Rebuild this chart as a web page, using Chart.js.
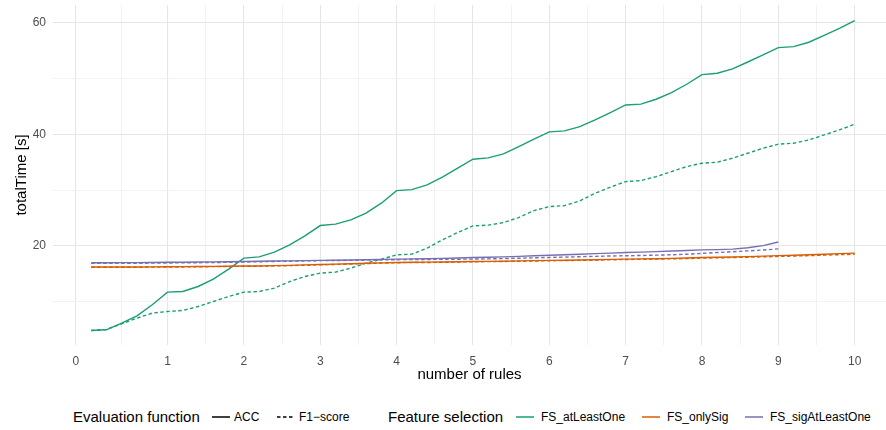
<!DOCTYPE html>
<html>
<head>
<meta charset="utf-8">
<script src="https://cdn.jsdelivr.net/npm/chart.js@4.4.0/dist/chart.umd.min.js"></script>
<style>
  body { margin: 0; background: #fff; font-family: "Liberation Sans", Arial, sans-serif; }
  #wrap { position: relative; width: 886px; height: 430px; overflow: hidden; }
  #myChart { position: absolute; left: 0; top: 0; }
  .lg { position: absolute; top: 407px; height: 20px; line-height: 20px; white-space: nowrap; color: #000; }
  .lg.title { font-size: 15px; }
  .lg.item { font-size: 12px; }
  .lg svg { position: absolute; top: 0; left: 0; }
</style>
</head>
<body>
<div id="wrap">
  <canvas id="myChart" width="886" height="395"></canvas>
  <div id="legend"></div>
</div>
<script>
// number of rules
const xValues = [0, 0.2, 0.4, 0.6, 0.8, 1, 1.2, 1.4, 1.6, 1.8, 2, 2.2, 2.4, 2.6, 2.8, 3, 3.2, 3.4, 3.6, 3.8,
  4, 4.2, 4.4, 4.6, 4.8, 5, 5.2, 5.4, 5.6, 5.8, 6, 6.2, 6.4, 6.6, 6.8, 7, 7.2, 7.4, 7.6, 7.8,
  8, 8.2, 8.4, 8.6, 8.8, 9, 9.2, 9.4, 9.6, 9.8, 10]

// totalTime [s]
const accAtLeastOne = [4.82, 4.95, 6.15, 7.46, 9.43, 11.7, 11.81, 12.71, 14.03, 15.82, 17.8, 18.03, 18.87, 20.18, 21.79,
  23.64, 23.89, 24.66, 25.86, 27.65, 29.91, 30.09, 30.93, 32.31, 33.92, 35.54, 35.77, 36.49, 37.8, 39.12,
  40.43, 40.61, 41.38, 42.58, 43.89, 45.27, 45.41, 46.29, 47.47, 48.98, 50.7, 50.95, 51.72, 52.97, 54.23,
  55.54, 55.72, 56.51, 57.76, 59.01, 60.38]
const f1AtLeastOne = [4.82, 5.03, 6.0, 7.04, 7.94, 8.23, 8.41, 9.12, 10.02, 10.91, 11.7, 11.81, 12.42, 13.6, 14.5,
  15.11, 15.29, 16.0, 16.9, 17.6, 18.39, 18.51, 19.59, 21.08, 22.38, 23.58, 23.71, 24.18, 25.07, 26.33,
  27.04, 27.22, 28.06, 29.44, 30.52, 31.52, 31.7, 32.42, 33.32, 34.21, 34.82, 35.0, 35.72, 36.61, 37.51,
  38.23, 38.41, 39.0, 39.89, 40.79, 41.81]
const accOnlySig = [16.2, 16.2, 16.2, 16.22, 16.23, 16.25, 16.27, 16.3, 16.32, 16.35, 16.38, 16.4, 16.45, 16.5, 16.58,
  16.65, 16.72, 16.8, 16.88, 16.95, 17.02, 17.05, 17.08, 17.1, 17.15, 17.2, 17.22, 17.25, 17.3, 17.35,
  17.4, 17.43, 17.47, 17.52, 17.57, 17.62, 17.66, 17.7, 17.76, 17.82, 17.9, 17.95, 18.0, 18.07, 18.15,
  18.25, 18.32, 18.4, 18.5, 18.6, 18.7]
const f1OnlySig = [16.15, 16.15, 16.15, 16.17, 16.18, 16.2, 16.22, 16.25, 16.27, 16.3, 16.33, 16.35, 16.4, 16.45, 16.52,
  16.6, 16.67, 16.75, 16.82, 16.9, 16.97, 17.0, 17.02, 17.05, 17.1, 17.15, 17.17, 17.2, 17.24, 17.28,
  17.33, 17.36, 17.4, 17.45, 17.5, 17.55, 17.58, 17.62, 17.67, 17.72, 17.8, 17.85, 17.9, 17.96, 18.03,
  18.1, 18.17, 18.25, 18.33, 18.42, 18.5]
const accSigAtLeastOne = [16.98, 16.98, 17.0, 17.0, 17.02, 17.05, 17.07, 17.1, 17.12, 17.15, 17.2, 17.23, 17.27, 17.3, 17.35,
  17.4, 17.43, 17.47, 17.52, 17.57, 17.62, 17.66, 17.7, 17.76, 17.83, 17.9, 17.96, 18.03, 18.12, 18.22,
  18.32, 18.4, 18.5, 18.6, 18.7, 18.8, 18.88, 18.97, 19.07, 19.17, 19.27, 19.32, 19.42, 19.65, 20.05, 20.7]
const f1SigAtLeastOne = [16.85, 16.85, 16.87, 16.88, 16.9, 16.93, 16.95, 16.98, 17.0, 17.05, 17.1, 17.15, 17.2, 17.25, 17.3,
  17.35, 17.37, 17.4, 17.43, 17.47, 17.52, 17.54, 17.56, 17.58, 17.6, 17.63, 17.67, 17.72, 17.78, 17.85,
  17.92, 17.98, 18.05, 18.12, 18.18, 18.22, 18.27, 18.33, 18.4, 18.5, 18.65, 18.8, 18.95, 19.1, 19.25, 19.45]

// axis ticks (the "0" break sits one step left of the first point)
const xMajorTicks = [-0.2, 1, 2, 3, 4, 5, 6, 7, 8, 9, 10]
const xMinorTicks = [0.4, 1.5, 2.5, 3.5, 4.5, 5.5, 6.5, 7.5, 8.5, 9.5]
const xTickLabels = ['0', '1', '2', '3', '4', '5', '6', '7', '8', '9', '10']
const yMajorTicks = [20, 40, 60]
const yMinorTicks = [10, 30, 50]

const evalLabels = ['ACC', 'F1\u2212score']
const fsLabels = ['FS_atLeastOne', 'FS_onlySig', 'FS_sigAtLeastOne']
const fsColors = ['#1B9E77', '#D95F02', '#7570B3']
const dash = [3.5, 2.5]

function pts(ys) {
  return ys.map((y, i) => ({ x: xValues[i], y: y }))
}

function line(ys, color, dashed) {
  return {
    data: pts(ys),
    borderColor: color,
    borderWidth: 1.4,
    borderDash: dashed ? dash : [],
    pointRadius: 0,
    tension: 0,
    fill: false
  }
}

const gridColor = (major) => (ctx) => major.includes(ctx.tick.value) ? '#E6E6E6' : '#F0F0F0'
const gridWidth = (major) => (ctx) => major.includes(ctx.tick.value) ? 1.1 : 0.9

const ctx = document.getElementById('myChart')
new Chart(ctx, {
  type: 'line',
  data: {
    datasets: [
      line(f1OnlySig, fsColors[1], true),
      line(accOnlySig, fsColors[1], false),
      line(f1SigAtLeastOne, fsColors[2], true),
      line(accSigAtLeastOne, fsColors[2], false),
      line(f1AtLeastOne, fsColors[0], true),
      line(accAtLeastOne, fsColors[0], false)
    ]
  },
  options: {
    responsive: false,
    animation: false,
    devicePixelRatio: 1,
    layout: { padding: { top: 5, right: 0, left: 0, bottom: 0 } },
    plugins: { legend: { display: false }, tooltip: { enabled: false } },
    scales: {
      x: {
        type: 'linear',
        min: -0.5,
        max: 10.41,
        afterBuildTicks: (scale) => {
          scale.ticks = xMajorTicks.concat(xMinorTicks).sort((a, b) => a - b).map(v => ({ value: v }))
        },
        afterFit: (scale) => { scale.height = 50 },
        ticks: {
          autoSkip: false,
          maxRotation: 0,
          padding: 9,
          color: '#4D4D4D',
          font: { family: '"Liberation Sans", Arial, sans-serif', size: 12 },
          callback: (v) => {
            const i = xMajorTicks.indexOf(v)
            return i >= 0 ? xTickLabels[i] : ''
          }
        },
        grid: { drawTicks: false, color: gridColor(xMajorTicks), lineWidth: gridWidth(xMajorTicks) },
        border: { display: false },
        title: {
          display: true,
          text: 'number of rules',
          color: '#000',
          font: { family: '"Liberation Sans", Arial, sans-serif', size: 15 },
          padding: { top: 0, bottom: 11 }
        }
      },
      y: {
        type: 'linear',
        min: 2.22,
        max: 63.19,
        afterBuildTicks: (scale) => {
          scale.ticks = yMinorTicks.concat(yMajorTicks).sort((a, b) => a - b).map(v => ({ value: v }))
        },
        afterFit: (scale) => {
          scale.width = 53
          scale.paddingTop = 0
          scale.paddingBottom = 0
        },
        ticks: {
          padding: 7,
          color: '#4D4D4D',
          font: { family: '"Liberation Sans", Arial, sans-serif', size: 12 },
          callback: (v) => yMajorTicks.includes(v) ? String(v) : ''
        },
        grid: { drawTicks: false, color: gridColor(yMajorTicks), lineWidth: gridWidth(yMajorTicks) },
        border: { display: false },
        title: {
          display: true,
          text: 'totalTime [s]',
          color: '#000',
          font: { family: '"Liberation Sans", Arial, sans-serif', size: 15 },
          padding: { top: 13, bottom: 0 }
        }
      }
    }
  }
})

// legend below the plot, laid out like the ggplot one
function keySvg(color, dashed) {
  const da = dashed ? ' stroke-dasharray="' + dash.join(' ') + '"' : ''
  return '<svg width="18" height="20"><line x1="0" y1="10" x2="18" y2="10" stroke="' + color +
    '" stroke-width="1.5"' + da + '/></svg>'
}
const lg = document.getElementById('legend')
let html = ''
html += '<div class="lg title" style="left:73px">Evaluation function</div>'
const evalKeyX = [212, 277]
evalLabels.forEach((t, i) => {
  html += '<div class="lg" style="left:' + evalKeyX[i] + 'px;width:18px">' + keySvg('#000', i === 1) + '</div>'
  html += '<div class="lg item" style="left:' + (evalKeyX[i] + 22) + 'px">' + t + '</div>'
})
html += '<div class="lg title" style="left:388px">Feature selection</div>'
const fsKeyX = [516, 642, 745]
fsLabels.forEach((t, i) => {
  html += '<div class="lg" style="left:' + fsKeyX[i] + 'px;width:18px">' + keySvg(fsColors[i], false) + '</div>'
  html += '<div class="lg item" style="left:' + (fsKeyX[i] + 25) + 'px">' + t + '</div>'
})
lg.innerHTML = html
</script>
</body>
</html>
